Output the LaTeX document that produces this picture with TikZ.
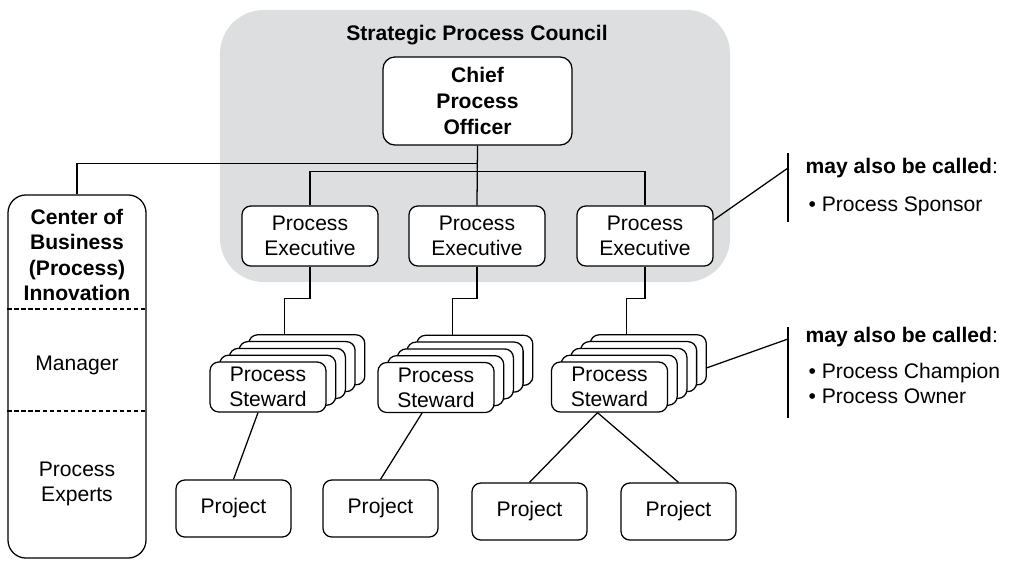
\documentclass[tikz,border=0pt]{standalone}
\usepackage{fontspec}
\setmainfont{Liberation Sans}
\usetikzlibrary{positioning,calc}
\definecolor{councilgray}{RGB}{221,222,224}

\begin{document}
\begin{tikzpicture}[x=0.025cm,y=-0.025cm,line width=0.9pt,font=\fontsize{15}{18}\selectfont]
\tikzstyle{bx}=[draw,fill=white,rounded corners=0.22cm,align=center,inner sep=0pt]
\tikzstyle{ex}=[bx,minimum width=3.4cm,minimum height=1.5cm]
\tikzstyle{st}=[bx,minimum width=2.9cm,minimum height=1.25cm]
\tikzstyle{pj}=[bx,minimum width=2.875cm,minimum height=1.425cm]
\tikzstyle{lbl}=[anchor=base west,inner sep=0pt]
\useasboundingbox (0,0) rectangle (1009,561);
% council
\node[fill=councilgray,rounded corners=1.1cm,minimum width=12.75cm,minimum height=6.8cm] (spc) at (475,146) {};
\node[font=\fontsize{15}{18}\selectfont\bfseries] (spct) at (477,35) {Strategic Process Council};
\node[bx,rounded corners=0.3cm,minimum width=4.725cm,minimum height=2.2cm,font=\fontsize{15}{18.5}\selectfont\bfseries] (cpo) at (477.5,101) {Chief\\Process\\Officer};
\node[ex] (e1) at (310,236) {Process\\Executive};
\node[ex] (e2) at (477,236) {Process\\Executive};
\node[ex] (e3) at (645,236) {Process\\Executive};
% center of business innovation
\node[draw,fill=white,rounded corners=0.45cm,minimum width=3.45cm,minimum height=9.075cm] (cbi) at (77,376.5) {};
\coordinate (d1) at (0,309);
\coordinate (d2) at (0,411);
\draw[dash pattern=on 3pt off 2pt] (cbi.west |- d1) -- (cbi.east |- d1);
\draw[dash pattern=on 3pt off 2pt] (cbi.west |- d2) -- (cbi.east |- d2);
\node[align=center,font=\fontsize{15}{18.2}\selectfont\bfseries] (cbit) at (77,255) {Center of\\Business\\(Process)\\Innovation};
\node (mgr) at (77,365) {Manager};
\node[align=center] (exp) at (77,484) {Process\\Experts};
% steward stacks
\foreach \n/\x/\y in {1/268/387,2/436/387.5,3/609.5/387}{
  \foreach \i in {4,3,2,1}
    \node[st] (s\n-\i) at (\x+9.7*\i,\y-6.8*\i) {};
  \node[st] (s\n-0) at (\x,\y) {Process\\Steward};
}
% projects
\node[pj] (p1) at (233.5,508.5) {Project};
\node[pj] (p2) at (380.5,508.5) {Project};
\node[pj] (p3) at (529.5,511.5) {Project};
\node[pj] (p4) at (678.5,511.5) {Project};
% connectors
\draw (cpo.south) -- ++(0,18) -| (cbi.north);
\draw (cpo.south) -- (e2.north);
\draw (e1.north) -- ++(0,-34) -| (e3.north);
\foreach \n in {1,2,3}
  \draw (e\n.south) -- ++(0,32) -| ([xshift=-0.55cm]s\n-4.north);
\draw ([xshift=-0.25cm]s1-0.south) -- (p1.north);
\draw ([xshift=-0.35cm]s2-0.south) -- (p2.north);
\draw ([xshift=-0.3cm]s3-0.south) -- (p3.north);
\draw ([xshift=-0.3cm]s3-0.south) -- (p4.north);
% callouts
\coordinate (c1t) at (788,153);
\coordinate (c1b) at (788,222);
\coordinate (c1m) at (788,168);
\draw (c1t) -- (c1b);
\draw ([yshift=0.4cm]e3.east) -- (c1m);
\node[lbl] (n1) at (805,173) {\textbf{may also be called}:};
\node[lbl] (n1a) at (808,211) {• Process Sponsor};
\coordinate (c2t) at (788,327);
\coordinate (c2b) at (788,418);
\coordinate (c2m) at (788,339);
\draw (c2t) -- (c2b);
\draw ([yshift=-0.2cm]s3-4.east) -- (c2m);
\node[lbl] (n2) at (805,342) {\textbf{may also be called}:};
\node[lbl] (n2a) at (808,378) {• Process Champion};
\node[lbl] (n2b) at (808,403) {• Process Owner};
\end{tikzpicture}
\end{document}
